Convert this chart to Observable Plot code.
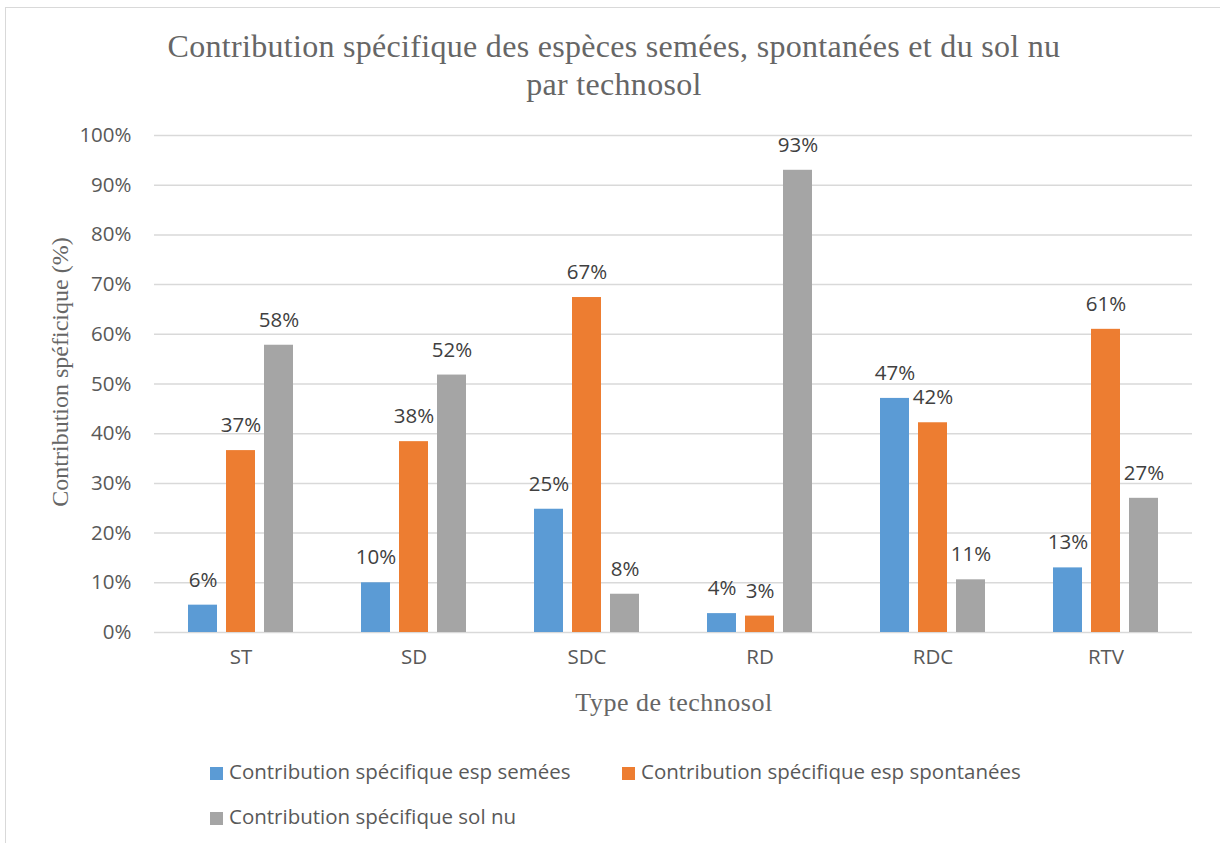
<!DOCTYPE html>
<html>
<head>
<meta charset="utf-8">
<script src="https://cdn.jsdelivr.net/npm/d3@7"></script>
<script src="https://cdn.jsdelivr.net/npm/@observablehq/plot@0.6"></script>
<style>
  html, body { margin: 0; padding: 0; background: #fff; }
  #wrap { position: relative; width: 1220px; height: 843px; overflow: hidden; background: #fff; }
  #frame { position: absolute; left: 5px; top: 7px; width: 1230px; height: 860px; border: 1.5px solid #d9d9d9; box-sizing: border-box; }
  #title { position: absolute; left: 0; width: 1228px; top: 27px; text-align: center; font-family: "Liberation Serif", "DejaVu Serif", serif; font-size: 32px; letter-spacing: 0.3px; line-height: 38px; color: #666; font-weight: 300; }
  #chart { position: absolute; left: 0; top: 0; }
  .leg { position: absolute; font-family: "Open Sans", "Liberation Sans", sans-serif; font-size: 20.5px; color: #595959; white-space: nowrap; line-height: 28px; }
  .leg span.sw { display: inline-block; width: 13px; height: 13px; margin-right: 6px; vertical-align: -1px; }
</style>
</head>
<body>
<div id="wrap">
  <div id="frame"></div>
  <div id="title">Contribution spécifique des espèces semées, spontanées et du sol nu<br>par technosol</div>
  <div id="chart"></div>
  <div id="legend"></div>
</div>
<script>
const categories = ["ST", "SD", "SDC", "RD", "RDC", "RTV"];
const seriesNames = [
  "Contribution spécifique esp semées",
  "Contribution spécifique esp spontanées",
  "Contribution spécifique sol nu"
];
const semees     = [5.5, 10.0, 24.8, 3.8, 47.1, 13.0];
const spontanees = [36.6, 38.4, 67.4, 3.3, 42.2, 61.0];
const solNu      = [57.8, 51.8, 7.7, 93.0, 10.6, 27.0];
const colors = ["#5b9bd5", "#ed7d31", "#a5a5a5"];
const yTicks = [0, 10, 20, 30, 40, 50, 60, 70, 80, 90, 100];

const seriesValues = [semees, spontanees, solNu];
const data = [];
categories.forEach((c, i) => {
  seriesNames.forEach((s, j) => {
    data.push({cat: c, series: s, value: seriesValues[j][i]});
  });
});

const font = '"Open Sans", "Liberation Sans", sans-serif';
const serif = '"Liberation Serif", "DejaVu Serif", serif';

const plot = Plot.plot({
  width: 1220,
  height: 720,
  marginTop: 135,
  marginBottom: 88,
  marginLeft: 153,
  marginRight: 27,
  style: {fontFamily: font, fontSize: "20.5px", color: "#595959", background: "transparent"},
  fx: {domain: categories, paddingInner: 0, paddingOuter: 0, label: null, axis: null},
  x: {domain: seriesNames, paddingInner: 0.24, paddingOuter: 0.84, axis: null},
  y: {domain: [0, 100], label: null, axis: null},
  color: {domain: seriesNames, range: colors},
  marks: [
    Plot.ruleY(yTicks, {stroke: "#d9d9d9", strokeWidth: 1.5}),
    Plot.axisY({ticks: yTicks, tickSize: 0, tickPadding: 23, tickFormat: d => d + "%", fontSize: "20.5px", fill: "#595959", label: null}),
    Plot.axisFx({anchor: "bottom", tickSize: 0, tickPadding: 17, fontSize: "20.5px", fill: "#595959", label: null}),
    Plot.barY(data, {fx: "cat", x: "series", y: "value", fill: "series"}),
    Plot.text(data, {fx: "cat", x: "series", y: "value", text: d => Math.round(d.value) + "%", dy: -25, fill: "#404040", fontSize: "20.5px"})
  ]
});
document.getElementById("chart").appendChild(plot);

// Axis titles
const svg = d3.select(plot);
svg.append("text")
  .attr("x", 674).attr("y", 711)
  .attr("text-anchor", "middle")
  .attr("font-family", serif).attr("font-size", 26).attr("letter-spacing", 0.5).attr("fill", "#666")
  .text("Type de technosol");
svg.append("text")
  .attr("transform", "translate(68,372) rotate(-90)")
  .attr("text-anchor", "middle")
  .attr("font-family", serif).attr("font-size", 24).attr("fill", "#666")
  .text("Contribution spéficique (%)");

// Legend
const legendPos = [[210, 757], [622, 757], [210, 802]];
const legend = document.getElementById("legend");
seriesNames.forEach((s, i) => {
  const d = document.createElement("div");
  d.className = "leg";
  d.style.left = legendPos[i][0] + "px";
  d.style.top = legendPos[i][1] + "px";
  d.innerHTML = `<span class="sw" style="background:${colors[i]}"></span>${s}`;
  legend.appendChild(d);
});
</script>
</body>
</html>
